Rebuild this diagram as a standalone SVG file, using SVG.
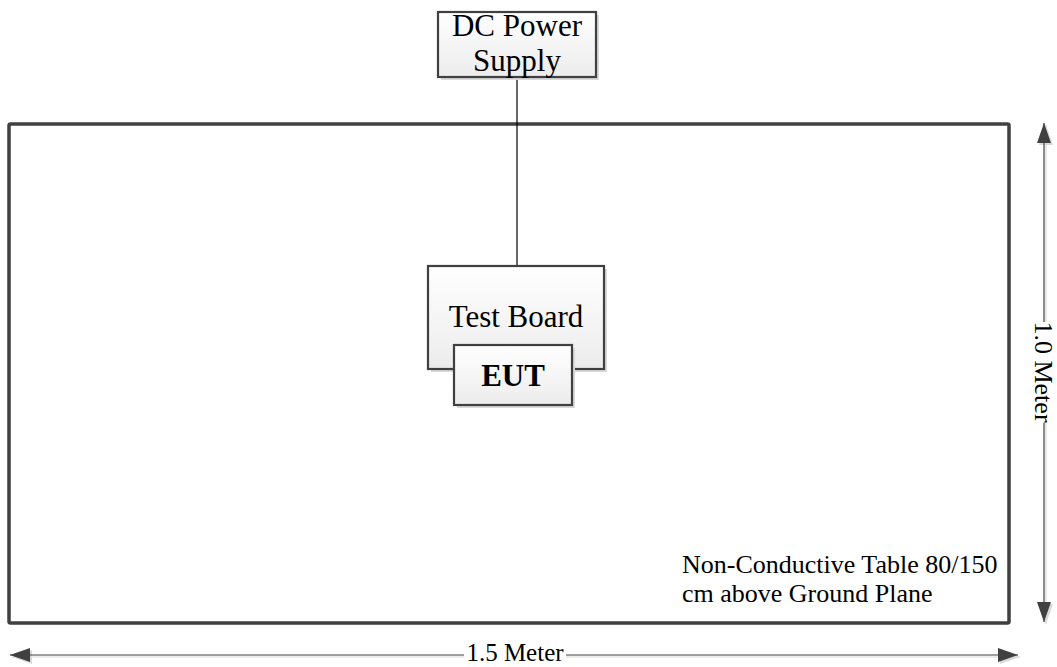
<svg xmlns="http://www.w3.org/2000/svg" width="1057" height="667" viewBox="0 0 1057 667">
<defs>
<linearGradient id="boxfill" x1="0" y1="0" x2="0" y2="1">
<stop offset="0" stop-color="#ffffff"/>
<stop offset="1" stop-color="#ececec"/>
</linearGradient>
<marker id="arrow" viewBox="0 0 20 14" refX="20" refY="7" markerWidth="20" markerHeight="14" markerUnits="userSpaceOnUse" orient="auto-start-reverse">
<path d="M0,0 L20,7 L0,14 Z" fill="#404040"/>
</marker>
<marker id="arrowsh" viewBox="0 0 20 14" refX="20" refY="7" markerWidth="20" markerHeight="14" markerUnits="userSpaceOnUse" orient="auto-start-reverse">
<path d="M0,0 L20,7 L0,14 Z" fill="#d9d9d9"/>
</marker>
</defs>
<style>
.box{fill:url(#boxfill);stroke:#404040;stroke-width:2.2}
.shadow{fill:#d9d9d9;stroke:none}
.t{font-family:"Liberation Serif","Times New Roman",serif;fill:#000}
.node{font-size:31px;text-anchor:middle}
.lbl{font-size:26px}
.dim{fill:none;stroke:#404040;stroke-width:1.2}
.dimsh{fill:none;stroke:#d9d9d9;stroke-width:1.2}
</style>
<g id="table">
<rect x="9" y="124" width="1000" height="499" rx="1.5" fill="none" stroke="#404040" stroke-width="3.5"/>
<text class="t lbl" x="682" y="573">Non-Conductive Table 80/150</text>
<text class="t lbl" x="682" y="602">cm above Ground Plane</text>
</g>
<g id="connectors">
<line x1="517" y1="77" x2="517" y2="266" stroke="#000" stroke-width="1.2"/>
</g>
<g id="dc-power-supply">
<rect class="shadow" x="441" y="15" width="158" height="65"/>
<rect class="box" x="438" y="12" width="158" height="65"/>
<text class="t node" x="517" y="36">DC Power</text>
<text class="t node" x="517" y="71">Supply</text>
</g>
<g id="test-board">
<rect class="shadow" x="431" y="269" width="176" height="103"/>
<rect class="box" x="428" y="266" width="176" height="103"/>
<text class="t node" x="516" y="327">Test Board</text>
</g>
<g id="eut">
<rect class="shadow" x="457" y="348" width="118" height="60"/>
<rect class="box" x="454" y="345" width="118" height="60"/>
<text class="t node" x="513" y="386" font-weight="bold">EUT</text>
</g>
<g id="dimension-width">
<path class="dimsh" d="M464,657 L12,657" marker-end="url(#arrowsh)"/>
<path class="dimsh" d="M566,657 L1020,657" marker-end="url(#arrowsh)"/>
<line class="dim" x1="464" y1="655" x2="10" y2="655" marker-end="url(#arrow)"/>
<line class="dim" x1="566" y1="655" x2="1018" y2="655" marker-end="url(#arrow)"/>
<text class="t" font-size="25" x="515" y="661" text-anchor="middle">1.5 Meter</text>
</g>
<g id="dimension-height">
<path class="dimsh" d="M1046,322 L1046,125" marker-end="url(#arrowsh)"/>
<path class="dimsh" d="M1046,423 L1046,624" marker-end="url(#arrowsh)"/>
<line class="dim" x1="1044" y1="322" x2="1044" y2="123" marker-end="url(#arrow)"/>
<line class="dim" x1="1044" y1="423" x2="1044" y2="622" marker-end="url(#arrow)"/>
<text class="t lbl" transform="translate(1044,372) rotate(90)" x="0" y="9" text-anchor="middle">1.0 Meter</text>
</g>
</svg>
